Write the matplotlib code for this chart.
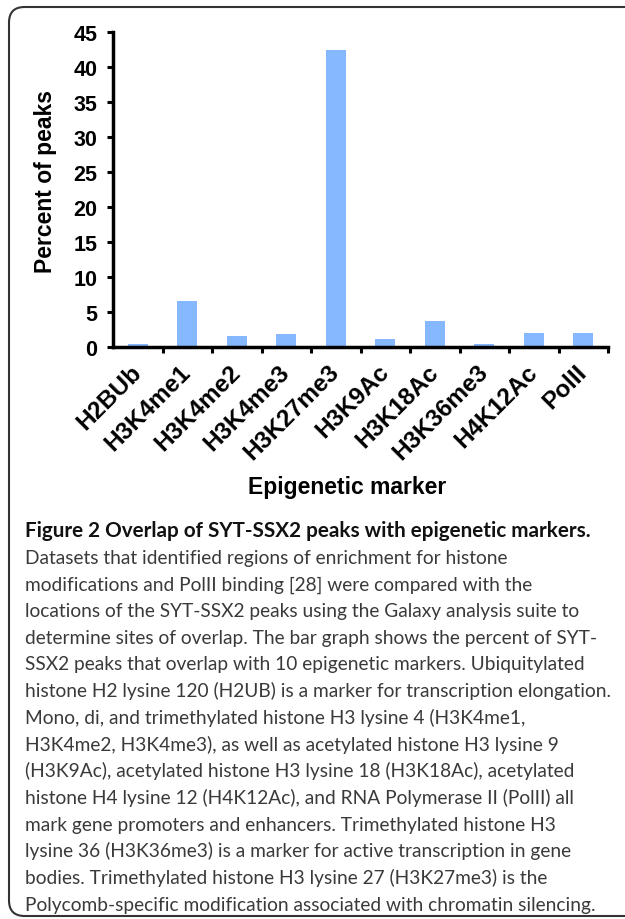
import matplotlib
matplotlib.use("Agg")
import matplotlib.pyplot as plt
from matplotlib.patches import FancyBboxPatch

categories = ["H2BUb", "H3K4me1", "H3K4me2", "H3K4me3", "H3K27me3",
              "H3K9Ac", "H3K18Ac", "H3K36me3", "H4K12Ac", "PolII"]
values = [0.5, 6.6, 1.6, 1.85, 42.4, 1.2, 3.7, 0.5, 1.95, 2.0]
yticks = [0, 5, 10, 15, 20, 25, 30, 35, 40, 45]

title = "Figure 2 Overlap of SYT-SSX2 peaks with epigenetic markers."
body = [
    "Datasets that identified regions of enrichment for histone",
    "modifications and PolII binding [28] were compared with the",
    "locations of the SYT-SSX2 peaks using the Galaxy analysis suite to",
    "determine sites of overlap. The bar graph shows the percent of SYT-",
    "SSX2 peaks that overlap with 10 epigenetic markers. Ubiquitylated",
    "histone H2 lysine 120 (H2UB) is a marker for transcription elongation.",
    "Mono, di, and trimethylated histone H3 lysine 4 (H3K4me1,",
    "H3K4me2, H3K4me3), as well as acetylated histone H3 lysine 9",
    "(H3K9Ac), acetylated histone H3 lysine 18 (H3K18Ac), acetylated",
    "histone H4 lysine 12 (H4K12Ac), and RNA Polymerase II (PolII) all",
    "mark gene promoters and enhancers. Trimethylated histone H3",
    "lysine 36 (H3K36me3) is a marker for active transcription in gene",
    "bodies. Trimethylated histone H3 lysine 27 (H3K27me3) is the",
    "Polycomb-specific modification associated with chromatin silencing.",
]

W, H = 625, 920
fig = plt.figure(figsize=(W / 100, H / 100), dpi=100)
fig.patch.set_facecolor("white")

# frame (right side runs off the image)
frame = FancyBboxPatch((9 / W, 1 - 917 / H), (760 - 9) / W, (917 - 8) / H,
                       boxstyle="round,pad=0,rounding_size=0.025",
                       transform=fig.transFigure, fill=False,
                       edgecolor="#333333", linewidth=1.5, mutation_aspect=W / H,
                       clip_on=False)
fig.patches.append(frame)

chart_font = "Liberation Sans"
ax = fig.add_axes([113 / W, 1 - 348 / H, 495 / W, 315 / H])
x = list(range(len(categories)))
ax.bar(x, values, width=0.4, color="#85B8FF", edgecolor="none")
ax.set_xlim(-0.5, len(categories) - 0.5)
ax.set_ylim(0, 45)
ax.set_yticks(yticks)
ax.set_yticklabels([str(v) for v in yticks], fontfamily=chart_font,
                   fontweight="bold", fontsize=15.5)
ax.set_xticks([i + 0.5 for i in x])
ax.set_xticklabels([])
ax.set_xticks(x, minor=True)
ax.set_xticklabels(categories, minor=True, rotation=45, ha="right", va="center",
                   rotation_mode="anchor", fontfamily=chart_font,
                   fontweight="bold", fontsize=17.5)
ax.tick_params(axis="x", which="minor", length=0, pad=15)
ax.tick_params(axis="x", which="major", direction="out", length=4.3, width=2.2)
ax.tick_params(axis="y", direction="out", length=4.3, width=2.2, pad=7)
for s in ["top", "right"]:
    ax.spines[s].set_visible(False)
for s in ["left", "bottom"]:
    ax.spines[s].set_linewidth(2.5)
ax.set_ylabel("Percent of peaks", fontfamily=chart_font, fontweight="bold",
              fontsize=16.5)
ax.yaxis.set_label_coords(-0.137, 0.527)
ax.yaxis.label.set_va("center")
ax.set_xlabel("Epigenetic marker", fontfamily=chart_font, fontweight="bold",
              fontsize=16.5)
ax.xaxis.set_label_coords(0.473, -0.444)
ax.xaxis.label.set_va("center")

# caption
cap_font = "Lato"
renderer = fig.canvas.get_renderer()

def fit_size(text, weight, target_px, start=14):
    t = fig.text(0, 0, text, fontfamily=cap_font, fontweight=weight, fontsize=start)
    w = t.get_window_extent(renderer).width
    t.remove()
    return start * target_px / w

title_size = fit_size(title, "bold", 570)
body_size = fit_size(body[5], "normal", 589)

x0 = 25 / W
base0 = 537
step = 26.7
fig.text(x0, 1 - base0 / H, title, fontfamily=cap_font, fontweight="bold",
         fontsize=title_size, color="#111111", va="baseline", ha="left")
for i, line in enumerate(body):
    fig.text(x0, 1 - (base0 + (i + 1) * step) / H, line, fontfamily=cap_font,
             fontsize=body_size, color="#3a3a3a", va="baseline", ha="left")

fig.savefig("out.png", dpi=100, facecolor="white")
